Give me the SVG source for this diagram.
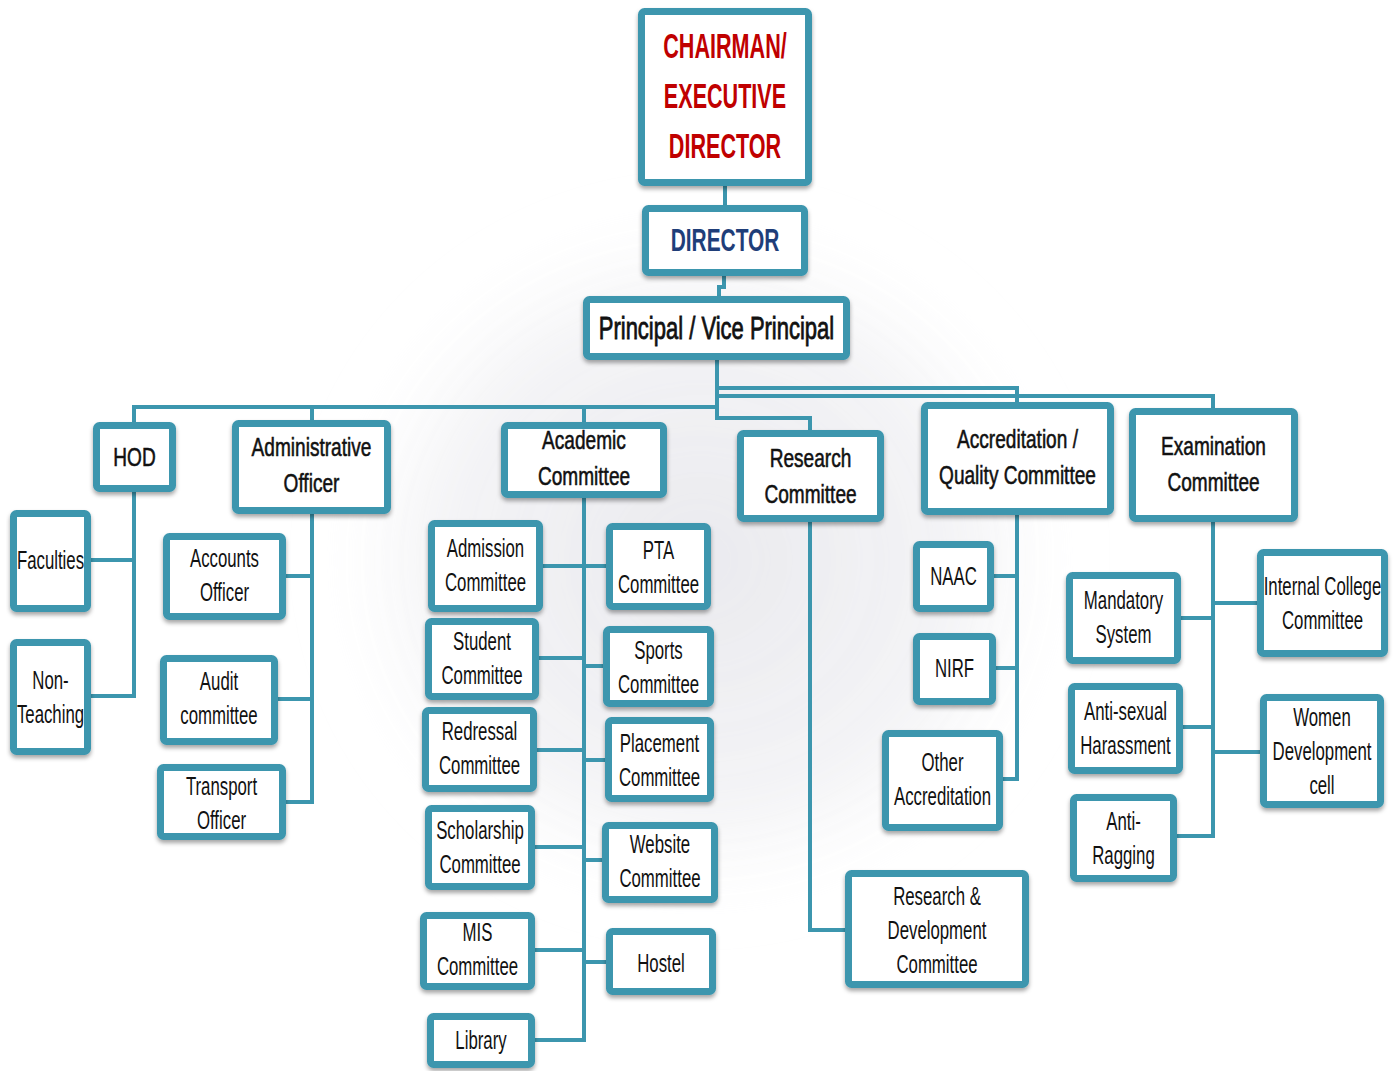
<svg xmlns="http://www.w3.org/2000/svg" width="1400" height="1071" viewBox="0 0 1400 1071">
<defs>
<filter id="sh" x="-10%" y="-10%" width="120%" height="130%">
<feDropShadow dx="0" dy="3" stdDeviation="2" flood-color="#000" flood-opacity="0.35"/>
</filter>
<filter id="blur" x="-30%" y="-30%" width="160%" height="160%">
<feGaussianBlur stdDeviation="30"/>
</filter>
<radialGradient id="wm" cx="0.5" cy="0.5" r="0.5">
<stop offset="0" stop-color="#d4d4dc" stop-opacity="0.55"/>
<stop offset="0.7" stop-color="#dcdce2" stop-opacity="0.35"/>
<stop offset="1" stop-color="#ffffff" stop-opacity="0"/>
</radialGradient>
</defs>
<style>
.box{fill:#fff;stroke:#3c96ae;stroke-width:7;filter:url(#sh)}
.con{fill:none;stroke:#3c96ae;stroke-width:4}
text{font-family:"Liberation Sans",Arial,sans-serif;text-anchor:middle;fill:#111;transform-box:fill-box;transform-origin:center}
.c{font-size:21px;transform:scale(0.8,1.25)}
.h{font-size:23px;stroke:#111;stroke-width:0.5;transform:scale(0.83,1.12)}
.p{font-size:26.5px;stroke:#111;stroke-width:0.7;transform:scale(0.83,1.2)}
.d{font-size:25.5px;font-weight:bold;fill:#1f3e79;transform:scale(0.82,1.26)}
.ch{font-size:26px;font-weight:bold;fill:#c00000;transform:scale(0.83,1.34)}
</style>
<rect width="1400" height="1071" fill="#fff"/>
<g id="watermark" opacity="0.9">
<ellipse cx="700" cy="560" rx="380" ry="360" fill="url(#wm)" filter="url(#blur)"/>
</g>
<g id="connectors">
<path class="con" d="M725 186V205"/>
<path class="con" d="M724 276V287H719V296"/>
<path class="con" d="M717 360V420"/>
<path class="con" d="M717 407H134V422M312 407V420M584 407V422"/>
<path class="con" d="M717 388H1017V402"/>
<path class="con" d="M717 396H1213V408"/>
<path class="con" d="M717 418H810V430"/>
<path class="con" d="M134 492V696H91M134 560H91"/>
<path class="con" d="M312 514V802H286M312 576H286M312 699H278"/>
<path class="con" d="M584 498V1040H535M543 566H606M539 658H584M537 750H584M535 847H584M535 950H584M584 666H603M584 760H605M584 860H602M584 962H606"/>
<path class="con" d="M810 522V930H845"/>
<path class="con" d="M1017 515V779H1003M1017 576H994M1017 668H996"/>
<path class="con" d="M1213 522V836H1177M1213 618H1181M1213 727H1183M1213 603H1257M1213 752H1260"/>
</g>
<g id="chairman"><rect class="box" x="641.5" y="11.5" width="167" height="171" rx="3"/>
<text class="ch" x="725"><tspan x="725" y="67.7">CHAIRMAN/</tspan><tspan x="725" y="105">EXECUTIVE</tspan><tspan x="725" y="142.3">DIRECTOR</tspan></text></g>
<g id="director"><rect class="box" x="645.5" y="208.5" width="159" height="64" rx="3"/>
<text class="d" x="725" y="248.8">DIRECTOR</text></g>
<g id="principal"><rect class="box" x="586.5" y="299.5" width="260" height="57" rx="3"/>
<text class="p" x="716.5" y="337.2">Principal / Vice Principal</text></g>
<g id="hod"><rect class="box" x="96.5" y="425.5" width="76" height="63" rx="3"/>
<text class="h" x="134.5" y="465">HOD</text></g>
<g id="admin-officer"><rect class="box" x="235.5" y="423.5" width="152" height="87" rx="3"/>
<text class="h"><tspan x="311.5" y="456.9">Administrative</tspan><tspan x="311.5" y="489">Officer</tspan></text></g>
<g id="academic"><rect class="box" x="504.5" y="425.5" width="159" height="69" rx="3"/>
<text class="h"><tspan x="584" y="450.4">Academic</tspan><tspan x="584" y="482.5">Committee</tspan></text></g>
<g id="research"><rect class="box" x="740.5" y="433.5" width="140" height="85" rx="3"/>
<text class="h"><tspan x="810.5" y="467.9">Research</tspan><tspan x="810.5" y="500">Committee</tspan></text></g>
<g id="accreditation"><rect class="box" x="924.5" y="405.5" width="186" height="106" rx="3"/>
<text class="h"><tspan x="1017.5" y="449.4">Accreditation /</tspan><tspan x="1017.5" y="481.5">Quality Committee</tspan></text></g>
<g id="examination"><rect class="box" x="1132.5" y="411.5" width="162" height="107" rx="3"/>
<text class="h"><tspan x="1213.5" y="455.9">Examination</tspan><tspan x="1213.5" y="488">Committee</tspan></text></g>
<g id="faculties"><rect class="box" x="13.5" y="513.5" width="74" height="95" rx="3"/>
<text class="c" x="50.5" y="567.3">Faculties</text></g>
<g id="non-teaching"><rect class="box" x="13.5" y="642.5" width="74" height="109" rx="3"/>
<text class="c"><tspan x="50.5" y="690.2">Non-</tspan><tspan x="50.5" y="717.4">Teaching</tspan></text></g>
<g id="accounts"><rect class="box" x="166.5" y="536.5" width="116" height="80" rx="3"/>
<text class="c"><tspan x="224.5" y="568.7">Accounts</tspan><tspan x="224.5" y="595.9">Officer</tspan></text></g>
<g id="audit"><rect class="box" x="163.5" y="658.5" width="111" height="83" rx="3"/>
<text class="c"><tspan x="219" y="691.2">Audit</tspan><tspan x="219" y="718.4">committee</tspan></text></g>
<g id="transport"><rect class="box" x="160.5" y="767.5" width="122" height="69" rx="3"/>
<text class="c"><tspan x="221.5" y="796.2">Transport</tspan><tspan x="221.5" y="823.4">Officer</tspan></text></g>
<g id="admission"><rect class="box" x="431.5" y="523.5" width="108" height="85" rx="3"/>
<text class="c"><tspan x="485.5" y="558.7">Admission</tspan><tspan x="485.5" y="585.9">Committee</tspan></text></g>
<g id="student"><rect class="box" x="428.5" y="621.5" width="107" height="75" rx="3"/>
<text class="c"><tspan x="482" y="651.7">Student</tspan><tspan x="482" y="678.9">Committee</tspan></text></g>
<g id="redressal"><rect class="box" x="425.5" y="710.5" width="108" height="78" rx="3"/>
<text class="c"><tspan x="479.5" y="741.7">Redressal</tspan><tspan x="479.5" y="768.9">Committee</tspan></text></g>
<g id="scholarship"><rect class="box" x="428.5" y="808.5" width="103" height="78" rx="3"/>
<text class="c"><tspan x="480" y="840.7">Scholarship</tspan><tspan x="480" y="867.9">Committee</tspan></text></g>
<g id="mis"><rect class="box" x="423.5" y="915.5" width="108" height="71" rx="3"/>
<text class="c"><tspan x="477.5" y="942.7">MIS</tspan><tspan x="477.5" y="969.9">Committee</tspan></text></g>
<g id="library"><rect class="box" x="430.5" y="1016.5" width="101" height="48" rx="3"/>
<text class="c" x="481" y="1047.3">Library</text></g>
<g id="pta"><rect class="box" x="609.5" y="526.5" width="98" height="80" rx="3"/>
<text class="c"><tspan x="658.5" y="560.2">PTA</tspan><tspan x="658.5" y="587.4">Committee</tspan></text></g>
<g id="sports"><rect class="box" x="606.5" y="629.5" width="104" height="74" rx="3"/>
<text class="c"><tspan x="658.5" y="660.7">Sports</tspan><tspan x="658.5" y="687.9">Committee</tspan></text></g>
<g id="placement"><rect class="box" x="608.5" y="720.5" width="102" height="78" rx="3"/>
<text class="c"><tspan x="659.5" y="753.7">Placement</tspan><tspan x="659.5" y="780.9">Committee</tspan></text></g>
<g id="website"><rect class="box" x="605.5" y="825.5" width="109" height="74" rx="3"/>
<text class="c"><tspan x="660" y="854.7">Website</tspan><tspan x="660" y="881.9">Committee</tspan></text></g>
<g id="hostel"><rect class="box" x="609.5" y="931.5" width="103" height="60" rx="3"/>
<text class="c" x="661" y="970.3">Hostel</text></g>
<g id="rnd"><rect class="box" x="848.5" y="873.5" width="177" height="111" rx="3"/>
<text class="c"><tspan x="937" y="910.1">Research &amp;</tspan><tspan x="937" y="937.3">Development</tspan><tspan x="937" y="964.5">Committee</tspan></text></g>
<g id="naac"><rect class="box" x="916.5" y="544.5" width="74" height="64" rx="3"/>
<text class="c" x="953.5" y="583.3">NAAC</text></g>
<g id="nirf"><rect class="box" x="916.5" y="636.5" width="76" height="65" rx="3"/>
<text class="c" x="954.5" y="675.3">NIRF</text></g>
<g id="other-accreditation"><rect class="box" x="885.5" y="733.5" width="114" height="94" rx="3"/>
<text class="c"><tspan x="942.5" y="772.7">Other</tspan><tspan x="942.5" y="799.9">Accreditation</tspan></text></g>
<g id="mandatory"><rect class="box" x="1069.5" y="575.5" width="108" height="85" rx="3"/>
<text class="c"><tspan x="1123.5" y="610.7">Mandatory</tspan><tspan x="1123.5" y="637.9">System</tspan></text></g>
<g id="anti-sexual"><rect class="box" x="1071.5" y="686.5" width="108" height="84" rx="3"/>
<text class="c"><tspan x="1125.5" y="721.2">Anti-sexual</tspan><tspan x="1125.5" y="748.4">Harassment</tspan></text></g>
<g id="anti-ragging"><rect class="box" x="1073.5" y="797.5" width="100" height="81" rx="3"/>
<text class="c"><tspan x="1123.5" y="831.2">Anti-</tspan><tspan x="1123.5" y="858.4">Ragging</tspan></text></g>
<g id="internal-college"><rect class="box" x="1260.5" y="552.5" width="124" height="101" rx="3"/>
<text class="c"><tspan x="1322.5" y="596.2">Internal College</tspan><tspan x="1322.5" y="623.4">Committee</tspan></text></g>
<g id="women-dev"><rect class="box" x="1263.5" y="697.5" width="117" height="107" rx="3"/>
<text class="c"><tspan x="1322" y="731.1">Women</tspan><tspan x="1322" y="758.3">Development</tspan><tspan x="1322" y="785.5">cell</tspan></text></g>
</svg>
